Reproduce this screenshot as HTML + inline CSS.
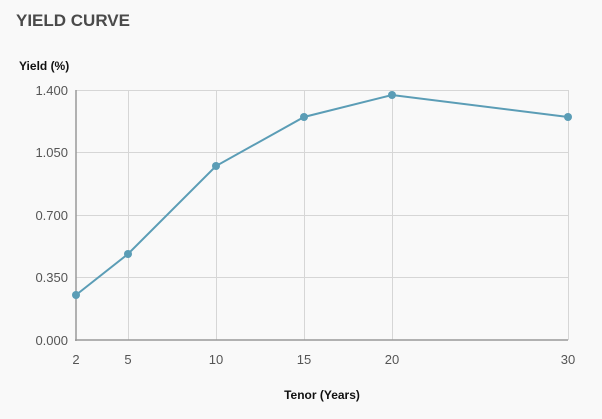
<!DOCTYPE html>
<html><head><style>
html,body{margin:0;padding:0;background:#f9f9f9;}
body{width:602px;height:414px;overflow:hidden;font-family:"Liberation Sans",sans-serif;}
</style></head><body>
<svg width="602" height="414" xmlns="http://www.w3.org/2000/svg" font-family="Liberation Sans, sans-serif">
<rect width="602" height="414" fill="#f9f9f9"/>
<text x="16" y="26" font-size="17" font-weight="bold" fill="#4a4a4a">YIELD CURVE</text>
<text x="19" y="70" font-size="12" font-weight="bold" fill="#111">Yield (%)</text>
<g stroke="#d6d6d6" stroke-width="1">
<line x1="76" y1="90.5" x2="568" y2="90.5"/>
<line x1="76" y1="152.5" x2="568" y2="152.5"/>
<line x1="76" y1="215.5" x2="568" y2="215.5"/>
<line x1="76" y1="277.5" x2="568" y2="277.5"/>
<line x1="128.5" y1="90" x2="128.5" y2="340"/>
<line x1="216.5" y1="90" x2="216.5" y2="340"/>
<line x1="304.5" y1="90" x2="304.5" y2="340"/>
<line x1="392.5" y1="90" x2="392.5" y2="340"/>
<line x1="568.5" y1="90" x2="568.5" y2="340"/>
</g>
<line x1="76" y1="90" x2="76" y2="341" stroke="#999" stroke-width="1.5"/>
<line x1="75" y1="340" x2="568" y2="340" stroke="#999" stroke-width="1.5"/>
<g font-size="13" fill="#555" text-anchor="end">
<text x="68" y="95">1.400</text>
<text x="68" y="157">1.050</text>
<text x="68" y="220">0.700</text>
<text x="68" y="282">0.350</text>
<text x="68" y="345">0.000</text>
</g>
<g font-size="13" fill="#555" text-anchor="middle">
<text x="76" y="364">2</text>
<text x="128" y="364">5</text>
<text x="216" y="364">10</text>
<text x="304" y="364">15</text>
<text x="392" y="364">20</text>
<text x="568" y="364">30</text>
</g>
<text x="322" y="399" font-size="12" font-weight="bold" fill="#111" text-anchor="middle">Tenor (Years)</text>
<polyline points="76,295 128,254 216,166 304,117 392,95 568,117" fill="none" stroke="#5b9db6" stroke-width="2"/>
<g fill="#5b9db6">
<circle cx="76" cy="295" r="4"/><circle cx="128" cy="254" r="4"/><circle cx="216" cy="166" r="4"/>
<circle cx="304" cy="117" r="4"/><circle cx="392" cy="95" r="4"/><circle cx="568" cy="117" r="4"/>
</g>
</svg>
</body></html>
